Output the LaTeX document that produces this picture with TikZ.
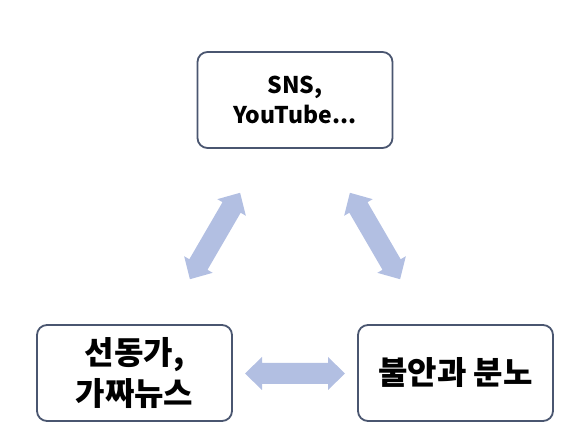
\documentclass[tikz,border=0pt]{standalone}
\usepackage{fontspec}
\setmainfont{Noto Sans CJK KR}
\begin{document}
\begin{tikzpicture}[x=1pt,y=-1pt,
  box/.style={draw=boxline, line width=1.8pt, rounded corners=10pt, fill=white,
    minimum width=195pt, minimum height=96pt, align=center, inner sep=0pt},
  latintxt/.style={font={\bfseries\fontsize{23pt}{30pt}\selectfont}},
  kortxt/.style={font={\bfseries\fontsize{32pt}{41pt}\selectfont}},
  arrowfill/.style={fill=arrowblue},
  dblarr/.pic={\fill[arrowfill] (-50,0) -- (-33,16.5) -- (-33,10.5) -- (33,10.5) -- (33,16.5) -- (50,0) -- (33,-16.5) -- (33,-10.5) -- (-33,-10.5) -- (-33,-16.5) -- cycle;}
]
\definecolor{boxline}{HTML}{4A5670}
\definecolor{arrowblue}{HTML}{B2BFE2}
\useasboundingbox (0,0) rectangle (582,443);
\node[box, latintxt] (top) at (295,100) {SNS,\\YouTube...};
\node[box, kortxt] (left) at (134.5,373) {선동가,\\가짜뉴스};
\node[box, kortxt] (right) at (455.5,373) {불안과 분노};
\coordinate (l1) at (190,279);
\coordinate (l2) at (240,193);
\coordinate (r1) at (350,193);
\coordinate (r2) at (400,279);
\coordinate (m1) at (245,373.5);
\coordinate (m2) at (345,373.5);
\path (l1) -- (l2) pic[midway, sloped] {dblarr};
\path (r1) -- (r2) pic[midway, sloped] {dblarr};
\path (m1) -- (m2) pic[midway, sloped] {dblarr};
\end{tikzpicture}
\end{document}
